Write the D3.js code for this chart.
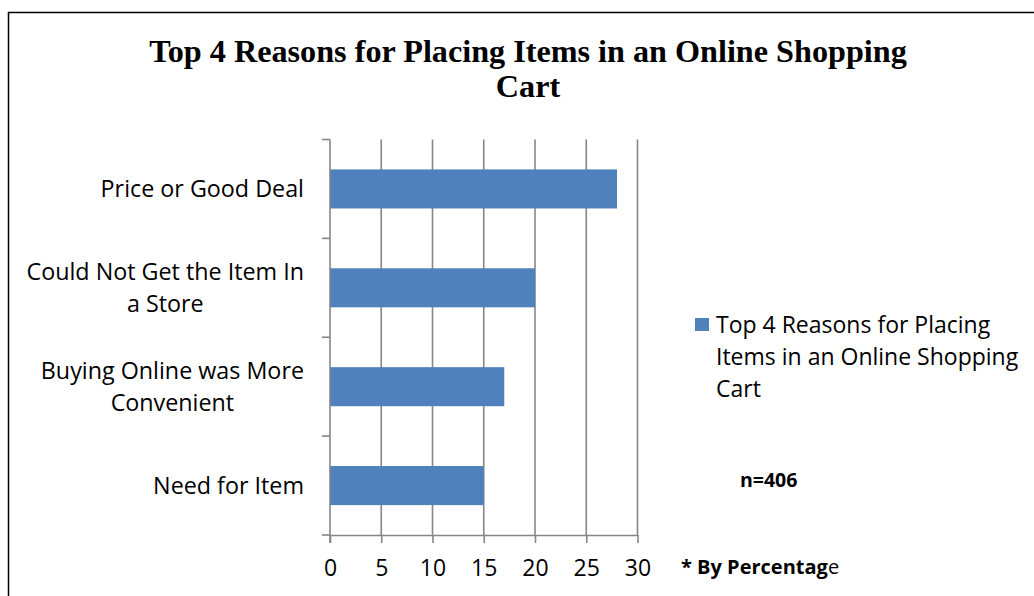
<!DOCTYPE html>
<html>
<head>
<meta charset="utf-8">
<script src="https://cdn.jsdelivr.net/npm/d3@7"></script>
<style>
  html, body { margin: 0; padding: 0; background: #fff; }
  svg { display: block; }
</style>
</head>
<body>
<script>
// Reasons shoppers gave, top to bottom, with percentage of respondents
const categories = [
  ["Price or Good Deal"],
  ["Could Not Get the Item In", "a Store"],
  ["Buying Online was More", "Convenient"],
  ["Need for Item"]
];
const values = [28, 20, 17, 15];
const xTicks = [0, 5, 10, 15, 20, 25, 30];
const titleLines = ["Top 4 Reasons for Placing Items in an Online Shopping", "Cart"];
const legendLines = ["Top 4 Reasons for Placing", "Items in an Online Shopping", "Cart"];

const W = 1034, H = 596;
const barColor = "#4F81BD";
const gridColor = "#868686";
const font = "'Open Sans', 'Noto Sans', sans-serif";

const svg = d3.select("body").append("svg").attr("width", W).attr("height", H);

// outer frame
svg.append("rect")
  .attr("x", 8.5).attr("y", 12.5).attr("width", W + 10).attr("height", H + 10)
  .attr("fill", "none").attr("stroke", "#000").attr("stroke-width", 1.5);

// title
svg.append("g").selectAll("text").data(titleLines).join("text")
  .attr("x", 528).attr("y", (d, i) => 62 + i * 35)
  .attr("text-anchor", "middle")
  .attr("font-family", "'Liberation Serif', 'Times New Roman', serif")
  .attr("font-weight", "bold").attr("font-size", 32.2)
  .text(d => d);

const plot = { left: 330, right: 637.5, top: 139.5, bottom: 535 };

const x = d3.scaleLinear().domain([0, 30]).range([plot.left, plot.right]);
const y = d3.scaleBand().domain(d3.range(categories.length))
  .range([plot.top, plot.bottom]).paddingInner(0.605).paddingOuter(0.3025);

// vertical gridlines
svg.append("g").selectAll("line").data(xTicks.slice(1)).join("line")
  .attr("x1", d => x(d)).attr("x2", d => x(d))
  .attr("y1", plot.top).attr("y2", plot.bottom)
  .attr("stroke", gridColor).attr("stroke-width", 1.6);

// bars
svg.append("g").selectAll("rect").data(values).join("rect")
  .attr("x", x(0)).attr("y", (d, i) => y(i))
  .attr("width", d => x(d) - x(0)).attr("height", y.bandwidth())
  .attr("fill", barColor);

// bottom value axis
const xAxis = svg.append("g").attr("transform", `translate(0,${plot.bottom})`)
  .call(d3.axisBottom(x).tickValues(xTicks).tickSizeInner(8).tickSizeOuter(0).tickPadding(17));
xAxis.select(".domain").attr("stroke", gridColor).attr("stroke-width", 1.6);
xAxis.selectAll(".tick line").attr("stroke", gridColor).attr("stroke-width", 1.6);
xAxis.selectAll(".tick text").attr("font-family", font).attr("font-size", 23).attr("fill", "#000");

// left category axis: line with boundary ticks between categories
const bounds = d3.range(categories.length + 1).map(i => plot.top + i * y.step());
const catAxis = svg.append("g");
catAxis.append("line")
  .attr("x1", plot.left).attr("x2", plot.left)
  .attr("y1", plot.top).attr("y2", plot.bottom + 8)
  .attr("stroke", gridColor).attr("stroke-width", 1.6);
catAxis.selectAll("line.b").data(bounds).join("line").attr("class", "b")
  .attr("x1", plot.left - 8).attr("x2", plot.left)
  .attr("y1", d => d).attr("y2", d => d)
  .attr("stroke", gridColor).attr("stroke-width", 1.6);

// category labels, wrapped lines centred on each other
const labelRight = 304, lineH = 32;
categories.forEach((lines, i) => {
  const cy = y(i) + y.bandwidth() / 2;
  const g = svg.append("g");
  const t = g.selectAll("text").data(lines).join("text")
    .attr("font-family", font).attr("font-size", 23.3).attr("fill", "#000")
    .attr("text-anchor", "middle")
    .attr("y", (d, j) => cy + (j - (lines.length - 1) / 2) * lineH)
    .attr("dy", "0.35em")
    .text(d => d);
  const maxW = d3.max(t.nodes(), n => n.getComputedTextLength());
  t.attr("x", labelRight - maxW / 2);
});

// legend
const legend = svg.append("g");
legend.append("rect").attr("x", 695).attr("y", 318).attr("width", 14).attr("height", 13).attr("fill", barColor);
legend.selectAll("text").data(legendLines).join("text")
  .attr("x", 716).attr("y", (d, i) => 333 + i * 32)
  .attr("font-family", font).attr("font-size", 23).attr("fill", "#000")
  .text(d => d);

// annotations
svg.append("text").attr("x", 740).attr("y", 487)
  .attr("font-family", font).attr("font-weight", "bold").attr("font-size", 19.5)
  .text("n=406");
const note = svg.append("text").attr("x", 681).attr("y", 574)
  .attr("font-family", font).attr("font-size", 20);
note.append("tspan").attr("font-weight", "bold").text("* By Percentag");
note.append("tspan").text("e");
</script>
</body>
</html>
